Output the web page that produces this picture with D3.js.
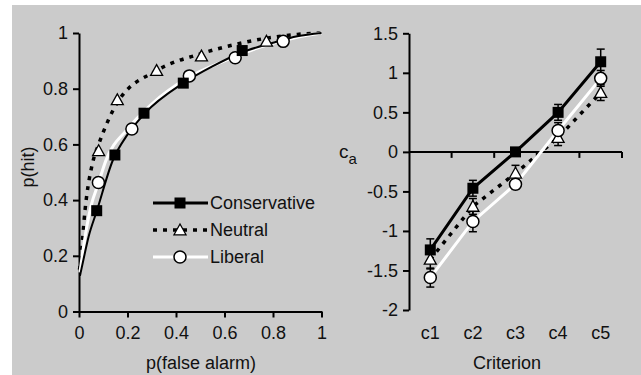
<!DOCTYPE html>
<html lang="en">
<head>
<meta charset="UTF-8" />
<title>ROC and criterion</title>
<script src="https://d3js.org/d3.v7.min.js"></script>
<style>
    body { margin: 0; background: #fff; }
    svg { display: block; font-family: "Liberation Sans", Arial, sans-serif; }
    .axis path, .axis line { stroke: #000; stroke-width: 2; }
    .axis text { font-size: 18px; fill: #111; }
</style>
</head>
<body>
<svg id="chart" width="641" height="375"></svg>
<script>
// ---- data ----
const groups = ["Conservative", "Neutral", "Liberal"];

// ROC points (false alarm, hit)
const consFA = [0.073, 0.148, 0.268, 0.43, 0.673];
const consHit = [0.362, 0.562, 0.712, 0.82, 0.937];
const neutFA = [0.081, 0.158, 0.32, 0.505, 0.773];
const neutHit = [0.577, 0.76, 0.865, 0.917, 0.97];
const libFA = [0.08, 0.218, 0.455, 0.644, 0.842];
const libHit = [0.463, 0.655, 0.846, 0.911, 0.97];

// fitted ROC curves
const consCurve = [[0.004, 0.128], [0.018, 0.185], [0.04, 0.27], [0.073, 0.36], [0.14, 0.544], [0.2, 0.635], [0.27, 0.71], [0.43, 0.82], [0.55, 0.88], [0.67, 0.93], [0.8, 0.965], [0.9, 0.988], [1, 1]];
const neutCurve = [[0.002, 0.15], [0.007, 0.185], [0.025, 0.365], [0.059, 0.544], [0.081, 0.6], [0.158, 0.75], [0.32, 0.865], [0.5, 0.925], [0.65, 0.96], [0.8, 0.985], [0.9, 0.995], [1, 1]];
const libCurve = [[0.004, 0.14], [0.02, 0.24], [0.05, 0.38], [0.08, 0.46], [0.11, 0.54], [0.2, 0.655], [0.3, 0.745], [0.45, 0.84], [0.6, 0.9], [0.75, 0.95], [0.9, 0.985], [1, 1]];

// criterion c_a
const criteria = ["c1", "c2", "c3", "c4", "c5"];
const consCa = [-1.24, -0.46, 0.0, 0.5, 1.14];
const neutCa = [-1.36, -0.69, -0.27, 0.18, 0.75];
const libCa = [-1.59, -0.88, -0.41, 0.27, 0.93];
const consErr = [0.14, 0.1, 0.05, 0.1, 0.16];
const neutErr = [0.12, 0.1, 0.1, 0.1, 0.1];
const libErr = [0.12, 0.13, 0.06, 0.1, 0.1];

const rocTicks = [0, 0.2, 0.4, 0.6, 0.8, 1];
const caTicks = [-2, -1.5, -1, -0.5, 0, 0.5, 1, 1.5];

const svg = d3.select("#chart");
svg.append("rect").attr("x", 12).attr("y", 5).attr("width", 629).attr("height", 370).attr("fill", "#cbcbcb");

const styles = {
    Conservative: { stroke: "#000", width: 3, dash: null, marker: "square" },
    Neutral: { stroke: "#000", width: 3.5, dash: "4,6", marker: "triangle" },
    Liberal: { stroke: "#fff", width: 3, dash: null, marker: "circle" }
};

function drawMarker(g, type, x, y) {
    if (type === "square") {
        g.append("rect").attr("x", x - 5.5).attr("y", y - 5.5).attr("width", 11).attr("height", 11).attr("fill", "#000");
    } else if (type === "triangle") {
        const s = 6;
        g.append("path")
            .attr("d", `M${x},${y - s}L${x + s},${y + s * 0.8}L${x - s},${y + s * 0.8}Z`)
            .attr("fill", "#fff").attr("stroke", "#000").attr("stroke-width", 1.3);
    } else {
        g.append("circle").attr("cx", x).attr("cy", y).attr("r", 6)
            .attr("fill", "#fff").attr("stroke", "#000").attr("stroke-width", 1.5);
    }
}

const fmt = d => String(d);

// ---- left panel: ROC ----
const x = d3.scaleLinear().domain([0, 1]).range([79, 321.5]);
const y = d3.scaleLinear().domain([0, 1]).range([311.5, 33]);

svg.append("g").attr("class", "axis")
    .attr("transform", "translate(0,311.5)")
    .call(d3.axisBottom(x).tickValues(rocTicks).tickFormat(fmt).tickSize(6).tickSizeOuter(0).tickPadding(9));
svg.append("g").attr("class", "axis")
    .attr("transform", "translate(79,0)")
    .call(d3.axisLeft(y).tickValues(rocTicks).tickFormat(fmt).tickSize(6).tickSizeOuter(0).tickPadding(5));

svg.append("text").attr("x", 201).attr("y", 369).attr("text-anchor", "middle")
    .attr("font-size", 18).attr("fill", "#111").text("p(false alarm)");
svg.append("text").attr("transform", "translate(34,167) rotate(-90)").attr("text-anchor", "middle")
    .attr("font-size", 18).attr("fill", "#111").text("p(hit)");

const curveLine = d3.line().x(d => x(d[0])).y(d => y(d[1])).curve(d3.curveMonotoneX);
const curves = { Conservative: consCurve, Neutral: neutCurve, Liberal: libCurve };
const rocPts = {
    Conservative: consFA.map((f, i) => [f, consHit[i]]),
    Neutral: neutFA.map((f, i) => [f, neutHit[i]]),
    Liberal: libFA.map((f, i) => [f, libHit[i]])
};

["Neutral", "Liberal", "Conservative"].forEach(k => {
    const st = styles[k];
    svg.append("path").datum(curves[k]).attr("d", curveLine)
        .attr("fill", "none").attr("stroke", st.stroke)
        .attr("stroke-width", k === "Conservative" ? 2 : st.width)
        .attr("stroke-dasharray", st.dash);
});
const rocMarks = svg.append("g");
["Neutral", "Liberal", "Conservative"].forEach(k => {
    rocPts[k].forEach(p => drawMarker(rocMarks, styles[k].marker, x(p[0]), y(p[1])));
});

// legend
const legend = svg.append("g");
groups.forEach((k, i) => {
    const ly = 203 + i * 27;
    const st = styles[k];
    legend.append("line").attr("x1", 153).attr("x2", 208).attr("y1", ly).attr("y2", ly)
        .attr("stroke", st.stroke).attr("stroke-width", st.width).attr("stroke-dasharray", st.dash);
    drawMarker(legend, st.marker, 180, ly);
    legend.append("text").attr("x", 210).attr("y", ly + 6).attr("font-size", 18).attr("fill", "#111").text(k);
});

// ---- right panel: criterion ----
const xb = d3.scaleBand().domain(criteria).range([409, 622]);
const yc = d3.scaleLinear().domain([-2, 1.5]).range([310, 33.3]);

svg.append("g").attr("class", "axis")
    .attr("transform", "translate(409,0)")
    .call(d3.axisLeft(yc).tickValues(caTicks).tickFormat(fmt).tickSize(6).tickSizeOuter(0).tickPadding(5));

// zero line with ticks at band boundaries
svg.append("line").attr("x1", 409).attr("x2", 622).attr("y1", yc(0)).attr("y2", yc(0))
    .attr("stroke", "#000").attr("stroke-width", 2);
svg.append("g").selectAll("line").data(criteria).join("line")
    .attr("x1", d => xb(d) + xb.bandwidth()).attr("x2", d => xb(d) + xb.bandwidth())
    .attr("y1", yc(0)).attr("y2", yc(0) + 6)
    .attr("stroke", "#000").attr("stroke-width", 2);

svg.append("g").selectAll("text").data(criteria).join("text")
    .attr("x", d => xb(d) + xb.bandwidth() / 2).attr("y", 339)
    .attr("text-anchor", "middle").attr("font-size", 18).attr("fill", "#111").text(d => d);
svg.append("text").attr("x", 507).attr("y", 369).attr("text-anchor", "middle")
    .attr("font-size", 18).attr("fill", "#111").text("Criterion");

const caLabel = svg.append("text").attr("x", 339).attr("y", 158).attr("font-size", 19).attr("fill", "#111");
caLabel.append("tspan").text("c");
caLabel.append("tspan").attr("dy", 6).attr("font-size", 15).text("a");

const caVals = { Conservative: consCa, Neutral: neutCa, Liberal: libCa };
const caErrs = { Conservative: consErr, Neutral: neutErr, Liberal: libErr };
const cx = d => xb(d) + xb.bandwidth() / 2;
const caLine = d3.line().x((d, i) => cx(criteria[i])).y(d => yc(d));

["Neutral", "Liberal", "Conservative"].forEach(k => {
    const st = styles[k];
    svg.append("path").datum(caVals[k]).attr("d", caLine)
        .attr("fill", "none").attr("stroke", st.stroke).attr("stroke-width", st.width)
        .attr("stroke-dasharray", st.dash);
});
const errG = svg.append("g").attr("stroke", "#000").attr("stroke-width", 1.5);
groups.forEach(k => {
    caVals[k].forEach((v, i) => {
        const px = cx(criteria[i]);
        const e = caErrs[k][i];
        errG.append("line").attr("x1", px).attr("x2", px).attr("y1", yc(v - e)).attr("y2", yc(v + e));
        [v - e, v + e].forEach(t => errG.append("line").attr("x1", px - 4).attr("x2", px + 4).attr("y1", yc(t)).attr("y2", yc(t)));
    });
});
const caMarks = svg.append("g");
["Neutral", "Liberal", "Conservative"].forEach(k => {
    caVals[k].forEach((v, i) => drawMarker(caMarks, styles[k].marker, cx(criteria[i]), yc(v)));
});
</script>
</body>
</html>
